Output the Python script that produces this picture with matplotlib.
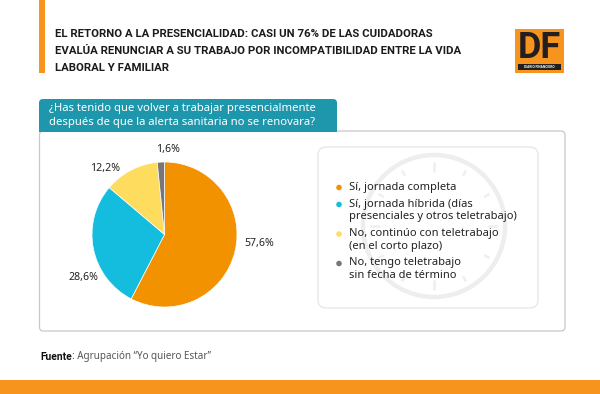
import matplotlib
matplotlib.use("Agg")
import matplotlib.pyplot as plt
from matplotlib.patches import FancyBboxPatch, Rectangle, Circle
import numpy as np

plt.rcParams['font.family'] = ['Roboto', 'DejaVu Sans']
BODY = ['Noto Sans', 'DejaVu Sans']

# ---------------- data ----------------
TITLE_LINES = [
    "EL RETORNO A LA PRESENCIALIDAD: CASI UN 76% DE LAS CUIDADORAS",
    "EVALÚA RENUNCIAR A SU TRABAJO POR INCOMPATIBILIDAD ENTRE LA VIDA",
    "LABORAL Y FAMILIAR",
]
QUESTION_LINES = [
    "¿Has tenido que volver a trabajar presencialmente",
    "después de que la alerta sanitaria no se renovara?",
]
CATEGORIES = [
    "Sí, jornada completa",
    "Sí, jornada híbrida (días\npresenciales y otros teletrabajo)",
    "No, continúo con teletrabajo\n(en el corto plazo)",
    "No, tengo teletrabajo\nsin fecha de término",
]
VALUES = [57.6, 28.6, 12.2, 1.6]
VALUE_LABELS = ["57,6%", "28,6%", "12,2%", "1,6%"]
SOURCE_BOLD = "Fuente"
SOURCE_TEXT = ": Agrupación “Yo quiero Estar”"

# ---------------- styles ----------------
COLORS = ["#F39200", "#14BDDE", "#FDDC5E", "#777777"]
ORANGE = "#F7941D"
TEAL = "#1E97AC"
LABEL_POS = [(1.31, -0.12), (-1.12, -0.59), (-0.82, 0.91), (0.05, 1.17)]

W, H = 600, 394
fig = plt.figure(figsize=(W / 100, H / 100), dpi=100)
fig.patch.set_facecolor("white")

bg = fig.add_axes([0, 0, 1, 1])
bg.set_xlim(0, W)
bg.set_ylim(H, 0)
bg.axis("off")

# orange accent bar
bg.add_patch(Rectangle((39, 0), 6, 73, facecolor=ORANGE, edgecolor="none"))

# title
for i, line in enumerate(TITLE_LINES):
    bg.text(55, 34 + i * 17, line, fontsize=8.2, fontweight="bold",
            color="#1b1b1b", va="center", ha="left")

# DF logo
bg.add_patch(Rectangle((515, 29), 49, 44, facecolor=ORANGE, edgecolor="none"))
bg.text(539.5, 47.5, "DF", fontsize=26, fontweight="bold", color="#231F20",
        ha="center", va="center")
bg.add_patch(Rectangle((518, 64), 43, 6, facecolor="#231F20", edgecolor="none"))
bg.text(539.5, 67, "DIARIO FINANCIERO", fontsize=2.3, color="white",
        ha="center", va="center", fontweight="bold")

# main box
bg.add_patch(FancyBboxPatch((39.5, 131), 525.5, 200,
                            boxstyle="round,pad=0,rounding_size=4",
                            facecolor="white", edgecolor="#C8C8C8", linewidth=0.9))
# teal tab
bg.add_patch(FancyBboxPatch((39, 99), 298, 32.5,
                            boxstyle="round,pad=0,rounding_size=4",
                            facecolor=TEAL, edgecolor="none"))
bg.add_patch(Rectangle((39, 125), 298, 7, facecolor=TEAL, edgecolor="none"))
for i, line in enumerate(QUESTION_LINES):
    bg.text(49, 108.5 + i * 13.5, line, fontsize=8.1, color="white",
            va="center", ha="left", family=BODY)

# legend box
bg.add_patch(FancyBboxPatch((318, 147), 220, 161,
                            boxstyle="round,pad=0,rounding_size=8",
                            facecolor="white", edgecolor="#E2E2E2", linewidth=0.8))
# clock watermark
cx, cy, cr = 434, 226, 71
bg.add_patch(Circle((cx, cy), cr, facecolor="none", edgecolor="#EEEEEE", linewidth=3.2))
for k in range(12):
    a = np.deg2rad(90 - k * 30)
    r_in = 54 if k % 3 == 0 else 58
    bg.plot([cx + r_in * np.cos(a), cx + 64 * np.cos(a)],
            [cy - r_in * np.sin(a), cy - 64 * np.sin(a)],
            color="#EFEFEF", linewidth=1.8, solid_capstyle="butt")

# legend entries
line_h, gap = 12.5, 4.5
y = 187
for i, (cat, col) in enumerate(zip(CATEGORIES, COLORS)):
    lines = cat.split("\n")
    bg.scatter([339], [y + 0.5], s=16, color=col, edgecolors="none", zorder=5)
    for j, ln in enumerate(lines):
        bg.text(349, y + j * line_h, ln, fontsize=8.0, color="#222222",
                va="center", ha="left", family=BODY)
    y += len(lines) * line_h + gap

# pie
pcx, pcy, pr = 164.5, 234.5, 72.5
pax = fig.add_axes([(pcx - pr) / W, (H - pcy - pr) / H, 2 * pr / W, 2 * pr / H])
wedges, _ = pax.pie(VALUES, colors=COLORS, startangle=90, counterclock=False,
                    radius=1, wedgeprops=dict(edgecolor="white", linewidth=0.5))
pax.set_xlim(-1, 1)
pax.set_ylim(-1, 1)
pax.axis("off")
for lab, (lx, ly) in zip(VALUE_LABELS, LABEL_POS):
    pax.text(lx, ly, lab, fontsize=7.6, color="#222222", ha="center", va="center",
             clip_on=False, family=BODY)

# source
t1 = bg.text(40, 357, SOURCE_BOLD, fontsize=7.4, fontweight="bold", color="#111111",
             va="center", ha="left")
bg.annotate(SOURCE_TEXT, xy=(1, 0.5), xycoords=t1, fontsize=7.1, color="#555555",
            va="center", ha="left", family=BODY)

# bottom band
bg.add_patch(Rectangle((0, 380), W, 14, facecolor=ORANGE, edgecolor="none"))

fig.savefig("out.png", dpi=100, facecolor="white")
